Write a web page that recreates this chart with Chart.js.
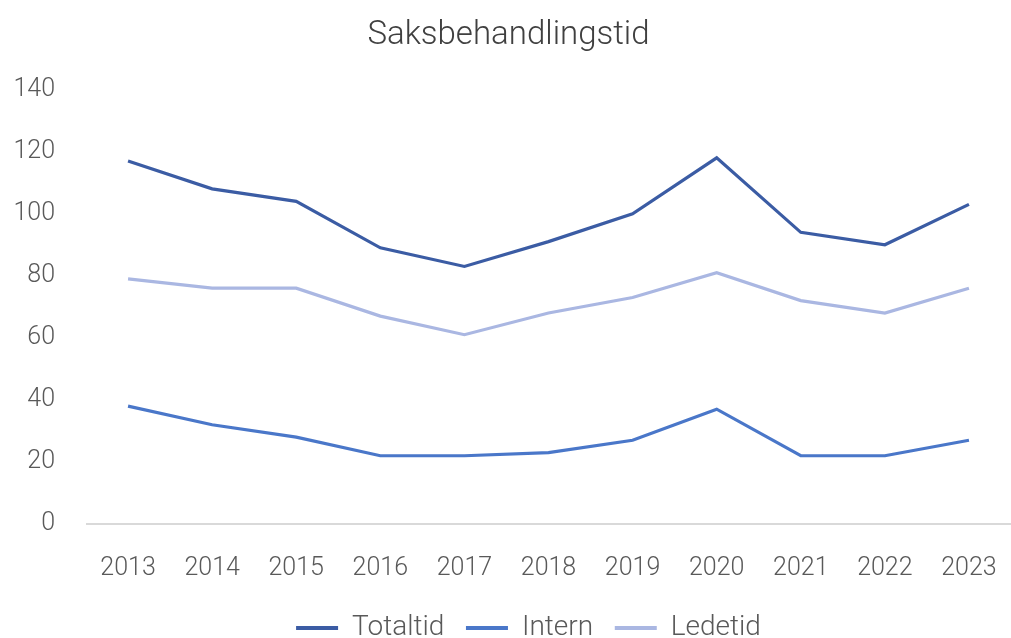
<!DOCTYPE html>
<html>
<head>
<meta charset="utf-8">
<script src="https://cdn.jsdelivr.net/npm/chart.js@4/dist/chart.umd.min.js"></script>
<style>
    html, body {margin: 0; padding: 0; background: #fff;}
    .saksChart {width: 1011px; height: 638px;}
</style>
</head>
<body>
<div class="saksChart"><canvas id="saksbehandlingChart"></canvas></div>
<script>
const years = ['2013', '2014', '2015', '2016', '2017', '2018', '2019', '2020', '2021', '2022', '2023'];
const totaltid = [117, 108, 104, 89, 83, 91, 100, 118, 94, 90, 103];
const intern = [38, 32, 28, 22, 22, 23, 27, 37, 22, 22, 27];
const ledetid = [79, 76, 76, 67, 61, 68, 73, 81, 72, 68, 76];
const yTicks = [0, 20, 40, 60, 80, 100, 120, 140];

const textColor = '#595959';
const fontFamily = 'Roboto';

function lineDataset(label, data, color) {
    return {
        label: label,
        data: data,
        borderColor: color,
        backgroundColor: color,
        borderWidth: 3.2,
        pointRadius: 0,
        fill: false,
        tension: 0
    };
}

// nudge the legend a bit right, like the original
const legendShift = {
    id: 'legendShift',
    afterLayout(chart) {
        chart.legend.left += 20;
        chart.legend.right += 20;
    }
};

let ctx = document.getElementById('saksbehandlingChart');
new Chart(ctx, {
    type: 'line',
    data: {
        labels: years,
        datasets: [
            lineDataset('Totaltid', totaltid, '#3b5ca4'),
            lineDataset('Intern', intern, '#4a77c9'),
            lineDataset('Ledetid', ledetid, '#aab7e2')
        ]
    },
    plugins: [legendShift],
    options: {
        responsive: true,
        maintainAspectRatio: false,
        animation: false,
        layout: {
            padding: {left: 0, right: -6, top: 0, bottom: -14}
        },
        scales: {
            x: {
                offset: true,
                grid: {display: false},
                border: {display: false},
                afterFit: scale => {
                    scale.paddingLeft = 0;
                    scale.paddingRight = 0;
                },
                ticks: {
                    color: textColor,
                    padding: 22,
                    font: {family: fontFamily, size: 25, weight: 300}
                }
            },
            y: {
                min: 0,
                max: 140,
                afterBuildTicks: axis => {
                    axis.ticks = yTicks.map(v => ({value: v}));
                },
                afterFit: axis => {
                    axis.width = 86;
                },
                border: {display: false},
                grid: {
                    drawTicks: false,
                    color: c => c.tick && c.tick.value === 0 ? '#d9d9d9' : 'transparent',
                    lineWidth: 2
                },
                ticks: {
                    color: textColor,
                    padding: 31,
                    font: {family: fontFamily, size: 25, weight: 300}
                }
            }
        },
        plugins: {
            title: {
                display: true,
                text: 'Saksbehandlingstid',
                color: '#404040',
                padding: {top: 16, bottom: 34},
                font: {family: fontFamily, size: 33, weight: 300}
            },
            legend: {
                display: true,
                position: 'bottom',
                labels: {
                    color: textColor,
                    boxWidth: 42,
                    boxHeight: 4,
                    padding: 8,
                    font: {family: fontFamily, size: 28, weight: 300},
                    generateLabels: chart => {
                        let items = Chart.defaults.plugins.legend.labels.generateLabels(chart);
                        items.forEach((item, i) => {
                            item.lineWidth = 0;
                            if (i < items.length - 1) {
                                item.text = item.text + '  ';
                            }
                        });
                        return items;
                    }
                }
            },
            tooltip: {enabled: false}
        }
    }
});
</script>
</body>
</html>
